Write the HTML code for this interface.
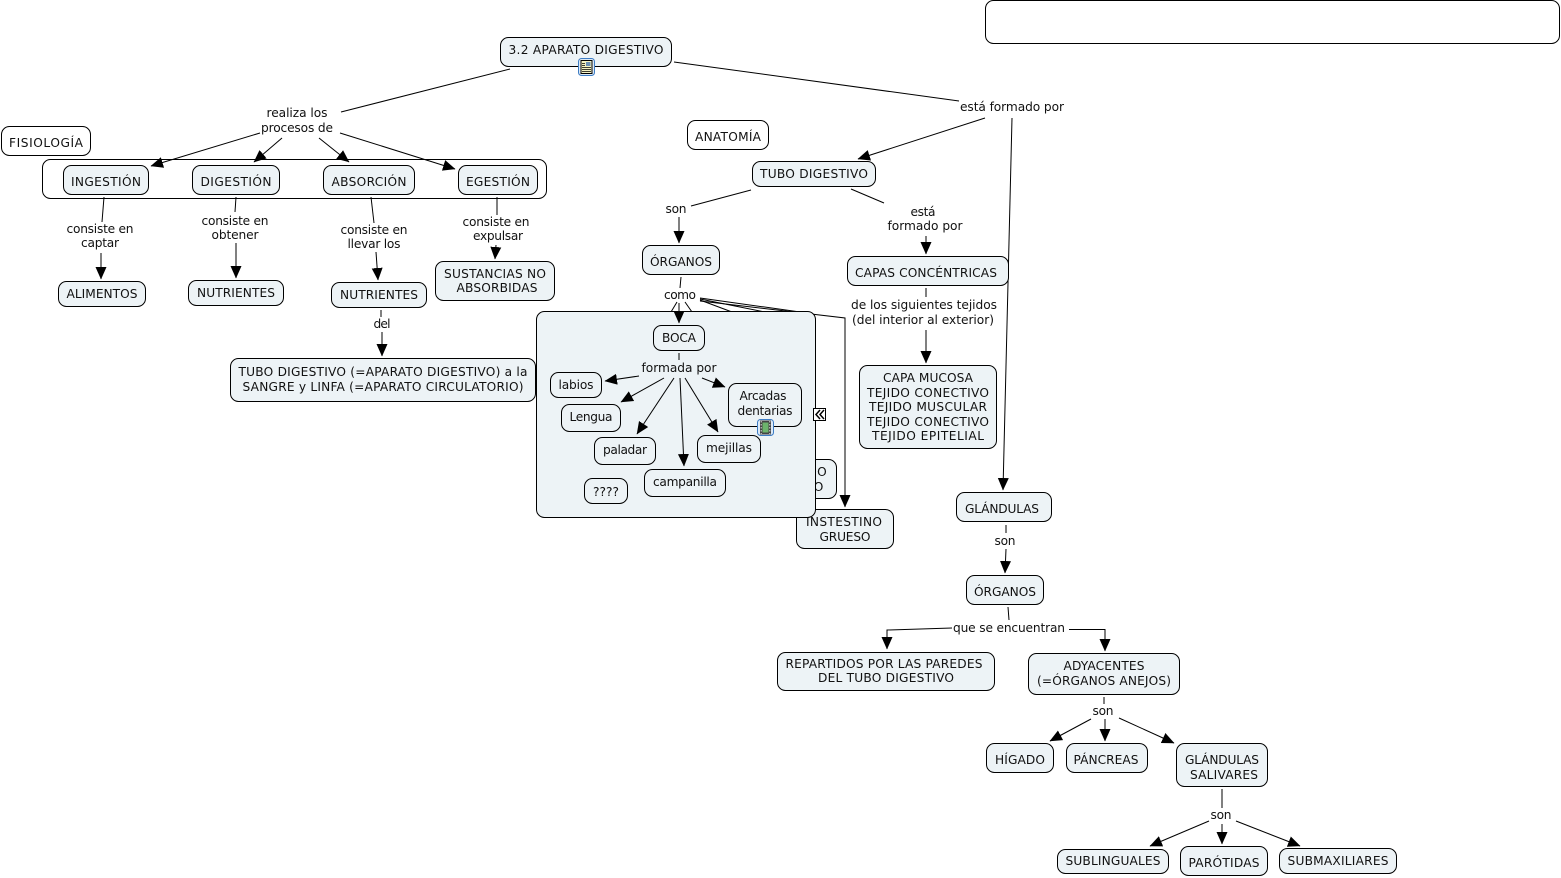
<!DOCTYPE html>
<html>
<head>
<meta charset="utf-8">
<style>
html,body{margin:0;padding:0;background:#fff;width:1561px;height:878px;overflow:hidden}
svg{display:block}
text{font-family:"DejaVu Sans","Liberation Sans",sans-serif;font-size:12.2px;fill:#111;text-anchor:middle}
.n{fill:#edf3f6;stroke:#000;stroke-width:1}
.w{fill:#fff;stroke:#000;stroke-width:1}
.l line,.l polyline{stroke:#000;stroke-width:1;fill:none}
.a line,.a polyline{stroke:#000;stroke-width:1;fill:none;marker-end:url(#ah)}
</style>
</head>
<body>
<svg width="1561" height="878" viewBox="0 0 1561 878" xmlns="http://www.w3.org/2000/svg">
<defs>
<marker id="ah" markerUnits="userSpaceOnUse" markerWidth="13" markerHeight="12" refX="12" refY="6" orient="auto" viewBox="0 0 13 12">
<path d="M0,0.5L12.5,6L0,11.5Z" fill="#000"/>
</marker>
</defs>

<rect class="w" x="985.5" y="0.5" width="574" height="43" rx="8"/>

<rect class="w" x="42.5" y="159.5" width="504" height="39" rx="8"/>

<g class="l">
<line x1="510" y1="69" x2="341" y2="112"/>
<line x1="674" y1="62" x2="959" y2="101"/>
<line x1="751" y1="190" x2="691" y2="206"/>
<line x1="851" y1="189" x2="884" y2="203"/>
<line x1="681" y1="277" x2="680" y2="288"/>
<line x1="700" y1="298" x2="800" y2="312"/>
<line x1="700" y1="299" x2="765" y2="312"/>
<line x1="700" y1="300" x2="732" y2="312"/>
<line x1="685" y1="302" x2="692" y2="312"/>
<line x1="677" y1="302" x2="671" y2="312"/>
<line x1="926" y1="288" x2="926" y2="297"/>
<line x1="1006" y1="525" x2="1006" y2="533"/>
<line x1="1008" y1="607" x2="1009" y2="620"/>
<line x1="1104" y1="697" x2="1104" y2="704"/>
<line x1="1222" y1="789" x2="1222" y2="808"/>
<line x1="104" y1="197" x2="102" y2="222"/>
<line x1="236" y1="197" x2="235" y2="212"/>
<line x1="371" y1="197" x2="374" y2="223"/>
<line x1="497" y1="197" x2="497" y2="215"/>
<line x1="381" y1="310" x2="381" y2="317"/>
</g>

<g class="a">
<line x1="260" y1="133" x2="151" y2="166"/>
<line x1="282" y1="138" x2="254" y2="162"/>
<line x1="319" y1="138" x2="349" y2="162"/>
<line x1="340" y1="133" x2="455" y2="169"/>
<line x1="985" y1="118" x2="858" y2="159"/>
<line x1="1012" y1="118" x2="1003" y2="490"/>
<line x1="679" y1="217" x2="679" y2="243"/>
<line x1="926" y1="236" x2="926" y2="254"/>
<polyline points="700,301 845,318 845,507"/>
<line x1="926" y1="330" x2="926" y2="363"/>
<line x1="1006" y1="549" x2="1005" y2="573"/>
<polyline points="952,628 887,630 887,649"/>
<polyline points="1069,629.5 1105,629.5 1105,651"/>
<line x1="1091" y1="719" x2="1050" y2="741"/>
<line x1="1105" y1="719" x2="1105" y2="741"/>
<line x1="1119" y1="718" x2="1174" y2="743"/>
<line x1="1209" y1="821" x2="1150" y2="846"/>
<line x1="1222" y1="824" x2="1222" y2="844"/>
<line x1="1236" y1="821" x2="1300" y2="846"/>
<line x1="101" y1="253" x2="101" y2="279"/>
<line x1="236" y1="243" x2="236" y2="278"/>
<line x1="376" y1="252" x2="378" y2="280"/>
<line x1="496" y1="245" x2="495" y2="259"/>
<line x1="382" y1="332" x2="382" y2="356"/>
</g>

<rect class="n" x="500.5" y="37.5" width="171" height="29" rx="8"/>
<text x="586" y="54" textLength="155">3.2 APARATO DIGESTIVO</text>

<rect class="w" x="1.5" y="126.5" width="89" height="29" rx="8"/>
<text x="46" y="147" textLength="74">FISIOLOGÍA</text>

<rect class="w" x="687.5" y="120.5" width="81" height="29" rx="8"/>
<text x="728" y="141" textLength="66">ANATOMÍA</text>

<rect class="n" x="63.5" y="165.5" width="85" height="29" rx="8"/>
<text x="106" y="186" textLength="70">INGESTIÓN</text>
<rect class="n" x="192.5" y="165.5" width="87" height="29" rx="8"/>
<text x="236" y="186" textLength="71">DIGESTIÓN</text>
<rect class="n" x="323.5" y="165.5" width="91" height="29" rx="8"/>
<text x="369" y="186" textLength="75">ABSORCIÓN</text>
<rect class="n" x="458.5" y="165.5" width="79" height="29" rx="8"/>
<text x="498" y="186" textLength="64">EGESTIÓN</text>

<rect class="n" x="58.5" y="281.5" width="87" height="25" rx="8"/>
<text x="102" y="298" textLength="71">ALIMENTOS</text>
<rect class="n" x="188.5" y="280.5" width="95" height="25" rx="8"/>
<text x="236" y="297" textLength="78">NUTRIENTES</text>
<rect class="n" x="331.5" y="282.5" width="95" height="25" rx="8"/>
<text x="379" y="299" textLength="78">NUTRIENTES</text>
<rect class="n" x="435.5" y="261.5" width="119" height="39" rx="8"/>
<text x="495" y="278" textLength="102">SUSTANCIAS NO</text>
<text x="497" y="292" textLength="81">ABSORBIDAS</text>

<rect class="n" x="230.5" y="358.5" width="305" height="43" rx="8"/>
<text x="383" y="376" textLength="289">TUBO DIGESTIVO (=APARATO DIGESTIVO) a la</text>
<text x="383" y="391" textLength="281">SANGRE y LINFA (=APARATO CIRCULATORIO)</text>

<rect class="n" x="752.5" y="161.5" width="123" height="25" rx="8"/>
<text x="814" y="178" textLength="108">TUBO DIGESTIVO</text>
<rect class="n" x="642.5" y="245.5" width="77" height="29" rx="8"/>
<text x="681" y="266" textLength="62">ÓRGANOS</text>
<rect class="n" x="847.5" y="256.5" width="161" height="29" rx="8"/>
<text x="926" y="277" textLength="142">CAPAS CONCÉNTRICAS</text>
<rect class="n" x="859.5" y="365.5" width="137" height="83" rx="8"/>
<text x="928" y="382" textLength="90">CAPA MUCOSA</text>
<text x="928" y="397" textLength="122">TEJIDO CONECTIVO</text>
<text x="928" y="411" textLength="118">TEJIDO MUSCULAR</text>
<text x="928" y="426" textLength="122">TEJIDO CONECTIVO</text>
<text x="928" y="440" textLength="112">TEJIDO EPITELIAL</text>

<rect class="n" x="760.5" y="459.5" width="76" height="39" rx="8"/>
<text x="794" y="476">INTESTINO</text>
<text x="793" y="491">DELGADO</text>
<rect class="n" x="796.5" y="509.5" width="97" height="39" rx="8"/>
<text x="844" y="526" textLength="76">INSTESTINO</text>
<text x="845" y="541" textLength="51">GRUESO</text>

<rect class="n" x="536.5" y="311.5" width="279" height="206" rx="8"/>
<g class="a"><line x1="679" y1="303" x2="679" y2="323"/></g>
<rect class="n" x="653.5" y="325.5" width="51" height="25" rx="8"/>
<text x="679" y="342" textLength="34">BOCA</text>
<rect class="n" x="550.5" y="372.5" width="51" height="25" rx="8"/>
<text x="576" y="389" textLength="35">labios</text>
<rect class="n" x="561.5" y="404.5" width="59" height="27" rx="8"/>
<text x="591" y="421" textLength="43">Lengua</text>
<rect class="n" x="594.5" y="437.5" width="61" height="27" rx="8"/>
<text x="625" y="454" textLength="44">paladar</text>
<rect class="n" x="697.5" y="435.5" width="63" height="27" rx="8"/>
<text x="729" y="452" textLength="46">mejillas</text>
<rect class="n" x="644.5" y="469.5" width="81" height="27" rx="8"/>
<text x="685" y="486" textLength="64">campanilla</text>
<rect class="n" x="584.5" y="478.5" width="43" height="25" rx="8"/>
<text x="606" y="496" textLength="26">????</text>
<rect class="n" x="728.5" y="383.5" width="73" height="43" rx="8"/>
<text x="763" y="400" textLength="47">Arcadas</text>
<text x="765" y="415" textLength="55">dentarias</text>

<g class="l"><line x1="679" y1="353" x2="679" y2="360"/></g>
<g class="a">
<line x1="639" y1="376" x2="605" y2="381"/>
<line x1="664" y1="378" x2="621" y2="402"/>
<line x1="674" y1="378" x2="637" y2="434"/>
<line x1="680" y1="378" x2="684" y2="466"/>
<line x1="685" y1="378" x2="718" y2="432"/>
<line x1="702" y1="378" x2="725" y2="387"/>
</g>

<rect x="813.5" y="408.5" width="12" height="12" fill="#fff" stroke="#000"/>
<path d="M820,410L816,414.5L820,419M824,410L820,414.5L824,419" fill="none" stroke="#000" stroke-width="1.5"/>

<rect x="578.5" y="58.5" width="16" height="17" rx="3" fill="#dbe9f7" stroke="#3d7cc4"/>
<rect x="581" y="60.5" width="11" height="13" fill="#f4f2c4" stroke="#000"/>
<path d="M582,67.5h9M582,69.5h9M582,71.5h9M582,65.5h3M582,63.5h3" stroke="#000" stroke-width="0.8"/>
<rect x="586" y="62" width="4.5" height="4" fill="#6b8fb5"/>

<rect x="757.5" y="419.5" width="16" height="16" rx="3" fill="#dbe9f7" stroke="#3d7cc4"/>
<rect x="760" y="420.5" width="11" height="14" fill="#444"/>
<rect x="762.5" y="422.5" width="6" height="10" fill="#6cb36c"/>
<path d="M761.2,421v13M769.8,421v13" stroke="#ddd" stroke-width="1" stroke-dasharray="1.5 1.5"/>

<rect class="n" x="956.5" y="492.5" width="95" height="29" rx="8"/>
<text x="1002" y="513" textLength="74">GLÁNDULAS</text>
<rect class="n" x="966.5" y="575.5" width="77" height="29" rx="8"/>
<text x="1005" y="596" textLength="62">ÓRGANOS</text>
<rect class="n" x="777.5" y="652.5" width="217" height="38" rx="8"/>
<text x="884" y="668" textLength="197">REPARTIDOS POR LAS PAREDES</text>
<text x="886" y="682" textLength="136">DEL TUBO DIGESTIVO</text>
<rect class="n" x="1028.5" y="653.5" width="151" height="41" rx="8"/>
<text x="1104" y="670" textLength="81">ADYACENTES</text>
<text x="1104" y="685" textLength="134">(=ÓRGANOS ANEJOS)</text>
<rect class="n" x="986.5" y="743.5" width="67" height="29" rx="8"/>
<text x="1020" y="764" textLength="50">HÍGADO</text>
<rect class="n" x="1066.5" y="743.5" width="81" height="29" rx="8"/>
<text x="1106" y="764" textLength="65">PÁNCREAS</text>
<rect class="n" x="1176.5" y="743.5" width="91" height="43" rx="8"/>
<text x="1222" y="764" textLength="74">GLÁNDULAS</text>
<text x="1224" y="779" textLength="68">SALIVARES</text>
<rect class="n" x="1057.5" y="849.5" width="111" height="24" rx="8"/>
<text x="1113" y="865" textLength="95">SUBLINGUALES</text>
<rect class="n" x="1180.5" y="846.5" width="87" height="29" rx="8"/>
<text x="1224" y="867" textLength="71">PARÓTIDAS</text>
<rect class="n" x="1279.5" y="848.5" width="117" height="25" rx="8"/>
<text x="1338" y="865" textLength="101">SUBMAXILIARES</text>

<text x="297" y="117" textLength="61">realiza los</text>
<text x="297" y="132" textLength="72">procesos de</text>
<text x="1012" y="111" textLength="104">está formado por</text>
<text x="676" y="213" textLength="21">son</text>
<text x="923" y="216" textLength="25">está</text>
<text x="925" y="230" textLength="75">formado por</text>
<text x="680" y="299" textLength="32">como</text>
<text x="924" y="309" textLength="146">de los siguientes tejidos</text>
<text x="923" y="324" textLength="142">(del interior al exterior)</text>
<text x="679" y="372" textLength="75">formada por</text>
<text x="100" y="233" textLength="67">consiste en</text>
<text x="100" y="247" textLength="38">captar</text>
<text x="235" y="225" textLength="67">consiste en</text>
<text x="235" y="239" textLength="47">obtener</text>
<text x="374" y="234" textLength="67">consiste en</text>
<text x="374" y="248" textLength="53">llevar los</text>
<text x="496" y="226" textLength="67">consiste en</text>
<text x="498" y="240" textLength="50">expulsar</text>
<text x="382" y="328" textLength="17">del</text>
<text x="1005" y="545" textLength="21">son</text>
<text x="1009" y="632" textLength="112">que se encuentran</text>
<text x="1103" y="715" textLength="21">son</text>
<text x="1221" y="819" textLength="21">son</text>
</svg>
</body>
</html>
